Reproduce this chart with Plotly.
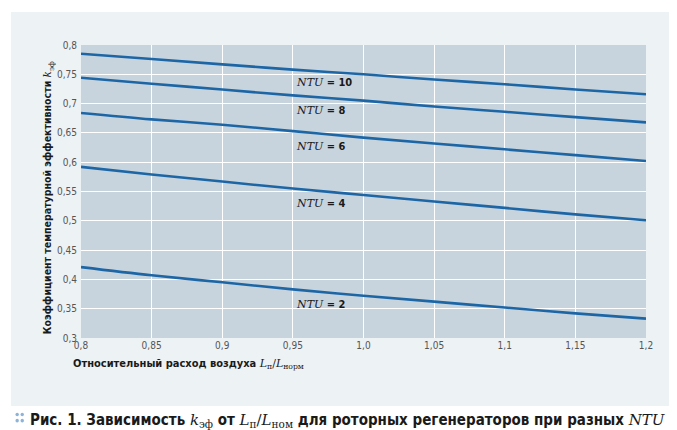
import plotly.graph_objects as go

# relative air flow L_п/L_норм
x_vals = [0.8, 0.85, 0.9, 0.95, 1.0, 1.05, 1.1, 1.15, 1.2]

# temperature efficiency k_эф for each NTU
ntu10 = [0.785, 0.776, 0.767, 0.758, 0.750, 0.741, 0.733, 0.724, 0.716]
ntu8 = [0.744, 0.734, 0.724, 0.714, 0.705, 0.695, 0.686, 0.677, 0.668]
ntu6 = [0.684, 0.673, 0.664, 0.653, 0.642, 0.632, 0.622, 0.612, 0.602]
ntu4 = [0.592, 0.579, 0.567, 0.555, 0.544, 0.533, 0.522, 0.511, 0.501]
ntu2 = [0.421, 0.407, 0.395, 0.383, 0.372, 0.362, 0.352, 0.342, 0.333]

ntu_names = ["10", "8", "6", "4", "2"]
label_y = [0.736, 0.688, 0.627, 0.529, 0.358]

x_ticks = [0.8, 0.85, 0.9, 0.95, 1.0, 1.05, 1.1, 1.15, 1.2]
x_ticktext = ["0,8", "0,85", "0,9", "0,95", "1,0", "1,05", "1,1", "1,15", "1,2"]
y_ticks = [0.3, 0.35, 0.4, 0.45, 0.5, 0.55, 0.6, 0.65, 0.7, 0.75, 0.8]
y_ticktext = ["0,3", "0,35", "0,4", "0,45", "0,5", "0,55", "0,6", "0,65", "0,7", "0,75", "0,8"]

LINE = "#1d66a6"
SANS = "DejaVu Sans, sans-serif"
SERIF = "DejaVu Serif, Liberation Serif, serif"


def cond(s):
    # condensed face of the sans font
    return f"<span style='font-stretch:condensed'>{s}</span>"


def serif(s):
    return f"<span style='font-family:{SERIF};font-weight:normal'>{s}</span>"


fig = go.Figure()

# light panel behind the chart and the plot area on top of it
fig.add_shape(
    type="rect", xref="paper", yref="paper",
    x0=-0.124, x1=1.062, y0=-0.232, y1=1.113,
    fillcolor="#edf2f5", line_width=0, layer="below"
)
fig.add_shape(
    type="rect", xref="paper", yref="paper",
    x0=0, x1=1, y0=0, y1=1,
    fillcolor="#c8d4dd", line_width=0, layer="below"
)

# four dots in front of the caption
for dx in [-0.113, -0.104]:
    for dy in [-0.261, -0.282]:
        fig.add_shape(
            type="circle", xref="paper", yref="paper",
            x0=dx - 0.003, x1=dx + 0.003, y0=dy - 0.006, y1=dy + 0.006,
            fillcolor="#8db3d8", line_width=0
        )

for vals in [ntu10, ntu8, ntu6, ntu4, ntu2]:
    fig.add_trace(go.Scatter(
        x=x_vals, y=vals, mode="lines",
        line=dict(color=LINE, width=2.6, shape="spline"),
        showlegend=False, hoverinfo="skip"
    ))

# NTU labels
for name, ly in zip(ntu_names, label_y):
    fig.add_annotation(
        x=0.951, y=ly, xref="x", yref="y", xanchor="left", yanchor="middle",
        text=serif("<i>NTU</i>") + cond(f"<b> = {name}</b>"),
        showarrow=False, font=dict(family=SANS, size=11, color="#1a1a1a")
    )

# axis titles
fig.add_annotation(
    x=-0.018, y=-0.09, xref="paper", yref="paper", xanchor="left", yanchor="middle",
    text=cond("<b>Относительный расход воздуха </b>")
         + serif("<i>L</i><sub>п</sub>/<i>L</i><sub>норм</sub>"),
    showarrow=False, font=dict(family=SANS, size=11, color="#1a1a1a")
)
fig.add_annotation(
    x=-0.057, y=0.48, xref="paper", yref="paper", textangle=-90,
    xanchor="center", yanchor="middle",
    text=cond("<b>Коэффициент температурной эффективности </b>")
         + serif("<i>k</i><sub>эф</sub>"),
    showarrow=False, font=dict(family=SANS, size=10.5, color="#1a1a1a")
)

# caption
fig.add_annotation(
    x=-0.094, y=-0.28, xref="paper", yref="paper", xanchor="left", yanchor="middle",
    text=cond("<b>Рис. 1. Зависимость </b>")
         + serif("<i>k</i><sub>эф</sub>")
         + cond("<b> от </b>")
         + serif("<i>L</i><sub>п</sub>/<i>L</i><sub>ном</sub>")
         + cond("<b> для роторных регенераторов при разных </b>")
         + serif("<i>NTU</i>"),
    showarrow=False, font=dict(family=SANS, size=15, color="#1a1a1a")
)

fig.update_layout(
    width=677, height=430,
    margin=dict(l=73, r=39, t=37, b=100),
    paper_bgcolor="white",
    plot_bgcolor="rgba(0,0,0,0)",
    showlegend=False
)
fig.update_xaxes(
    range=[0.8, 1.2], tickvals=x_ticks, ticktext=[cond(t) for t in x_ticktext],
    showgrid=True, gridcolor="white", gridwidth=1.2, zeroline=False,
    showline=False, ticks="", ticklabelstandoff=0,
    tickfont=dict(family=SANS, size=10, color="#555555")
)
fig.update_yaxes(
    range=[0.3, 0.8], tickvals=y_ticks, ticktext=[cond(t) for t in y_ticktext],
    showgrid=True, gridcolor="white", gridwidth=1.2, zeroline=False,
    showline=False, ticks="", ticklabelstandoff=3,
    tickfont=dict(family=SANS, size=10, color="#555555")
)

fig.write_html("out.html")
